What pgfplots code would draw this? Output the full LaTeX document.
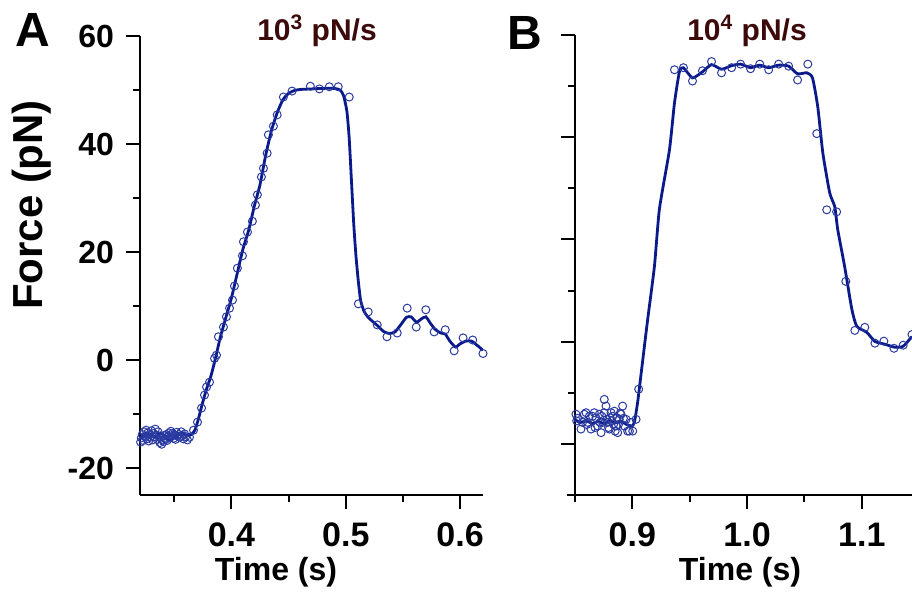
\documentclass[border=0pt]{standalone}
\usepackage{fontspec}
\setmainfont{Liberation Sans}
\usepackage{pgfplots}
\pgfplotsset{compat=1.18}
\definecolor{linec}{HTML}{0A1A8A}
\definecolor{markc}{HTML}{2A3AA0}
\definecolor{titlec}{HTML}{3C0A0A}
\newcommand{\fs}[1]{\fontsize{#1}{#1}\selectfont\bfseries}
\pgfplotsset{
 panel/.style={
  scale only axis, axis lines=left, axis line style={line width=1pt,-},
  tick align=outside, major tick length=7pt, minor tick length=3.5pt,
  major tick style={line width=1pt,black}, minor tick style={line width=1pt,black},
  x tick label style={font=\fs{17}, yshift=-3.5pt}, y tick label style={font=\fs{16}, xshift=-2.5pt},
  clip=true,
 },
 dataline/.style={color=linec, line width=1.4pt, smooth, tension=0.35, no markers},
 datamarks/.style={only marks, mark=o, mark size=2pt, mark options={draw=markc, line width=0.5pt}},
}
\begin{document}
\begin{tikzpicture}
\path[use as bounding box] (0,0) rectangle (456pt,297pt);
% Panel A
\begin{axis}[panel, at={(70pt,49.5pt)}, anchor=south west,
  width=171.5pt, height=229.5pt,
  xmin=0.32, xmax=0.62, ymin=-25, ymax=60,
  xtick={0.4,0.5,0.6}, xticklabels={0.4,0.5,0.6},
  minor xtick={0.35,0.45,0.55},
  ytick={-20,0,20,40,60}, yticklabels={-20,0,20,40,60},
  minor ytick={-10,10,30,50}]
\addplot[dataline] table {
0.320 -14.6
0.325 -13.6
0.330 -13.9
0.334 -14.3
0.338 -13.5
0.342 -14.2
0.345 -15.0
0.349 -14.5
0.353 -13.9
0.357 -13.5
0.361 -14.0
0.365 -13.8
0.368 -13.0
0.371 -11.0
0.374 -8.5
0.378 -5.5
0.382 -3.0
0.386 0.3
0.390 4.0
0.395 7.8
0.400 11.5
0.405 16.0
0.410 20.5
0.415 24.0
0.420 28.5
0.425 32.5
0.430 38.0
0.435 42.5
0.440 45.8
0.445 48.2
0.450 49.4
0.455 49.9
0.460 50.1
0.470 50.2
0.480 50.3
0.490 50.3
0.495 50.0
0.498 49.0
0.501 46.0
0.503 41.0
0.505 33.0
0.507 25.0
0.509 19.0
0.511 14.5
0.513 11.0
0.516 9.0
0.520 7.8
0.527 6.5
0.533 5.3
0.538 4.9
0.543 5.2
0.548 6.5
0.553 7.9
0.557 8.0
0.562 7.0
0.566 7.6
0.570 8.0
0.574 6.8
0.578 5.7
0.583 5.0
0.587 4.8
0.591 3.5
0.596 2.4
0.600 3.0
0.605 3.5
0.610 3.5
0.615 2.7
0.620 1.8
};
\addplot[datamarks] table {
0.3205 -15.2
0.3212 -14.4
0.3220 -13.8
0.3228 -14.9
0.3236 -13.3
0.3244 -14.2
0.3252 -13.0
0.3260 -14.6
0.3268 -13.5
0.3276 -15.0
0.3284 -13.8
0.3292 -14.3
0.3300 -13.1
0.3310 -14.8
0.3318 -13.6
0.3326 -14.2
0.3334 -12.8
0.3342 -13.9
0.3350 -14.7
0.3358 -13.3
0.3366 -14.1
0.3374 -15.3
0.3382 -14.5
0.3390 -15.6
0.3398 -14.8
0.3406 -15.1
0.3414 -14.0
0.3422 -14.6
0.3430 -13.8
0.3438 -14.9
0.3446 -14.2
0.3454 -13.5
0.3462 -14.4
0.3470 -13.2
0.3478 -14.0
0.3486 -13.6
0.3494 -14.5
0.3502 -13.9
0.3510 -14.7
0.3520 -13.4
0.3530 -14.1
0.3540 -13.8
0.3550 -14.3
0.3560 -13.3
0.3570 -14.0
0.3580 -14.6
0.3590 -13.7
0.3600 -14.2
0.3615 -14.8
0.3633 -14.3
0.3668 -13.0
0.3703 -11.5
0.3738 -8.9
0.3764 -6.5
0.3782 -5.0
0.3808 -4.1
0.3852 0.3
0.3869 0.9
0.3886 4.3
0.3930 6.1
0.3956 8.0
0.3983 9.6
0.4009 11.1
0.4026 13.7
0.4052 17.0
0.4096 19.3
0.4105 21.9
0.4140 23.7
0.4183 25.7
0.4210 28.7
0.4227 30.6
0.4262 33.9
0.4280 35.5
0.4312 38.3
0.4323 41.7
0.4367 43.3
0.4400 45.4
0.4454 48.7
0.4530 49.8
0.4690 50.7
0.4769 50.2
0.4856 50.6
0.4934 50.6
0.5030 48.7
0.5110 10.4
0.5196 8.9
0.5275 6.5
0.5360 4.3
0.5450 5.0
0.5537 9.6
0.5616 6.1
0.5700 9.3
0.5773 5.2
0.5870 5.6
0.5948 1.7
0.6026 4.1
0.6110 3.7
0.6200 1.2
};
\end{axis}
% Panel B
\begin{axis}[panel, at={(287.5pt,49.5pt)}, anchor=south west,
  width=168.5pt, height=230pt,
  xmin=0.85, xmax=1.1437, ymin=-30, ymax=60,
  xtick={0.9,1.0,1.1}, xticklabels={0.9,1.0,1.1},
  minor xtick={0.85,0.95,1.05},
  ytick={-20,0,20,40,60}, yticklabels={},
  minor ytick={-10,10,30,50},
  x axis line style={shorten <=-4pt}]
\addplot[dataline] table {
0.850 -15.3
0.855 -15.8
0.860 -15.5
0.865 -16.0
0.870 -15.6
0.875 -16.0
0.880 -15.5
0.885 -15.9
0.890 -15.6
0.895 -16.2
0.900 -16.5
0.902 -15.5
0.9045 -12.0
0.906 -9.3
0.913 3.75
0.9192 14.7
0.9236 26.0
0.9323 37.5
0.9367 46.7
0.941 52.8
0.9445 53.6
0.9524 51.6
0.9611 52.8
0.969 54.2
0.9777 53.3
0.9865 54.0
0.9943 54.3
1.003 53.6
1.011 54.1
1.0188 53.6
1.0275 54.1
1.0362 53.9
1.044 52.4
1.052 52.6
1.057 51.6
1.0616 45.9
1.066 36.9
1.072 29.1
1.0764 26.4
1.079 21.9
1.085 14.7
1.0913 6.3
1.0956 3.0
1.1044 1.8
1.1114 0.04
1.12 -0.5
1.129 -1.1
1.136 -0.9
1.1437 1.0
};
\addplot[datamarks, mark options={draw=markc, fill=white, line width=0.5pt}] table {
0.8508 -14.2
0.8515 -15.5
0.8522 -15.0
0.8552 -17.1
0.8565 -15.8
0.8581 -14.2
0.8596 -13.9
0.8603 -16.2
0.8610 -15.8
0.8625 -14.6
0.8639 -17.1
0.8653 -14.6
0.8668 -13.9
0.8675 -16.8
0.8683 -14.9
0.8697 -16.5
0.8712 -14.2
0.8719 -15.8
0.8727 -17.8
0.8734 -14.6
0.8741 -15.8
0.8755 -11.3
0.8755 -13.9
0.8770 -12.6
0.8777 -15.2
0.8784 -15.8
0.8792 -16.8
0.8799 -17.1
0.8806 -14.9
0.8814 -13.9
0.8821 -15.5
0.8828 -14.6
0.8836 -16.2
0.8843 -13.6
0.8850 -17.5
0.8858 -16.5
0.8865 -14.9
0.8872 -17.8
0.8879 -16.2
0.8886 -15.2
0.8894 -14.0
0.8901 -14.2
0.8915 -12.6
0.8922 -15.0
0.8930 -16.5
0.8945 -15.2
0.8959 -17.5
0.8974 -17.5
0.8989 -15.8
0.9003 -17.5
0.9032 -15.2
0.9055 -9.3
0.9367 53.2
0.9445 53.6
0.9524 51.0
0.9611 53.0
0.9690 54.8
0.9777 52.6
0.9865 53.6
0.9943 54.3
1.0030 53.4
1.0110 54.3
1.0188 53.2
1.0275 54.3
1.0362 53.9
1.0440 51.2
1.0529 54.3
1.0607 40.7
1.0694 25.8
1.0780 25.4
1.0860 11.8
1.0939 2.2
1.1026 2.8
1.1114 -0.3
1.1192 0.1
1.1280 -1.3
1.1360 -0.7
1.1437 1.4
};
\end{axis}
% labels
\node[font=\fs{24}] at (16.5pt,282pt) {A};
\node[font=\fs{24}] at (262.5pt,280.5pt) {B};
\node[font=\fs{15}, text=titlec] at (158.5pt,281.5pt) {10\textsuperscript{3} pN/s};
\node[font=\fs{15}, text=titlec] at (373.5pt,281.5pt) {10\textsuperscript{4} pN/s};
\node[font=\fs{21}, rotate=90] at (16pt,194.5pt) {Force (pN)};
\node[font=\fs{16}] at (138pt,11pt) {Time (s)};
\node[font=\fs{16}] at (370pt,11pt) {Time (s)};
\end{tikzpicture}
\end{document}
